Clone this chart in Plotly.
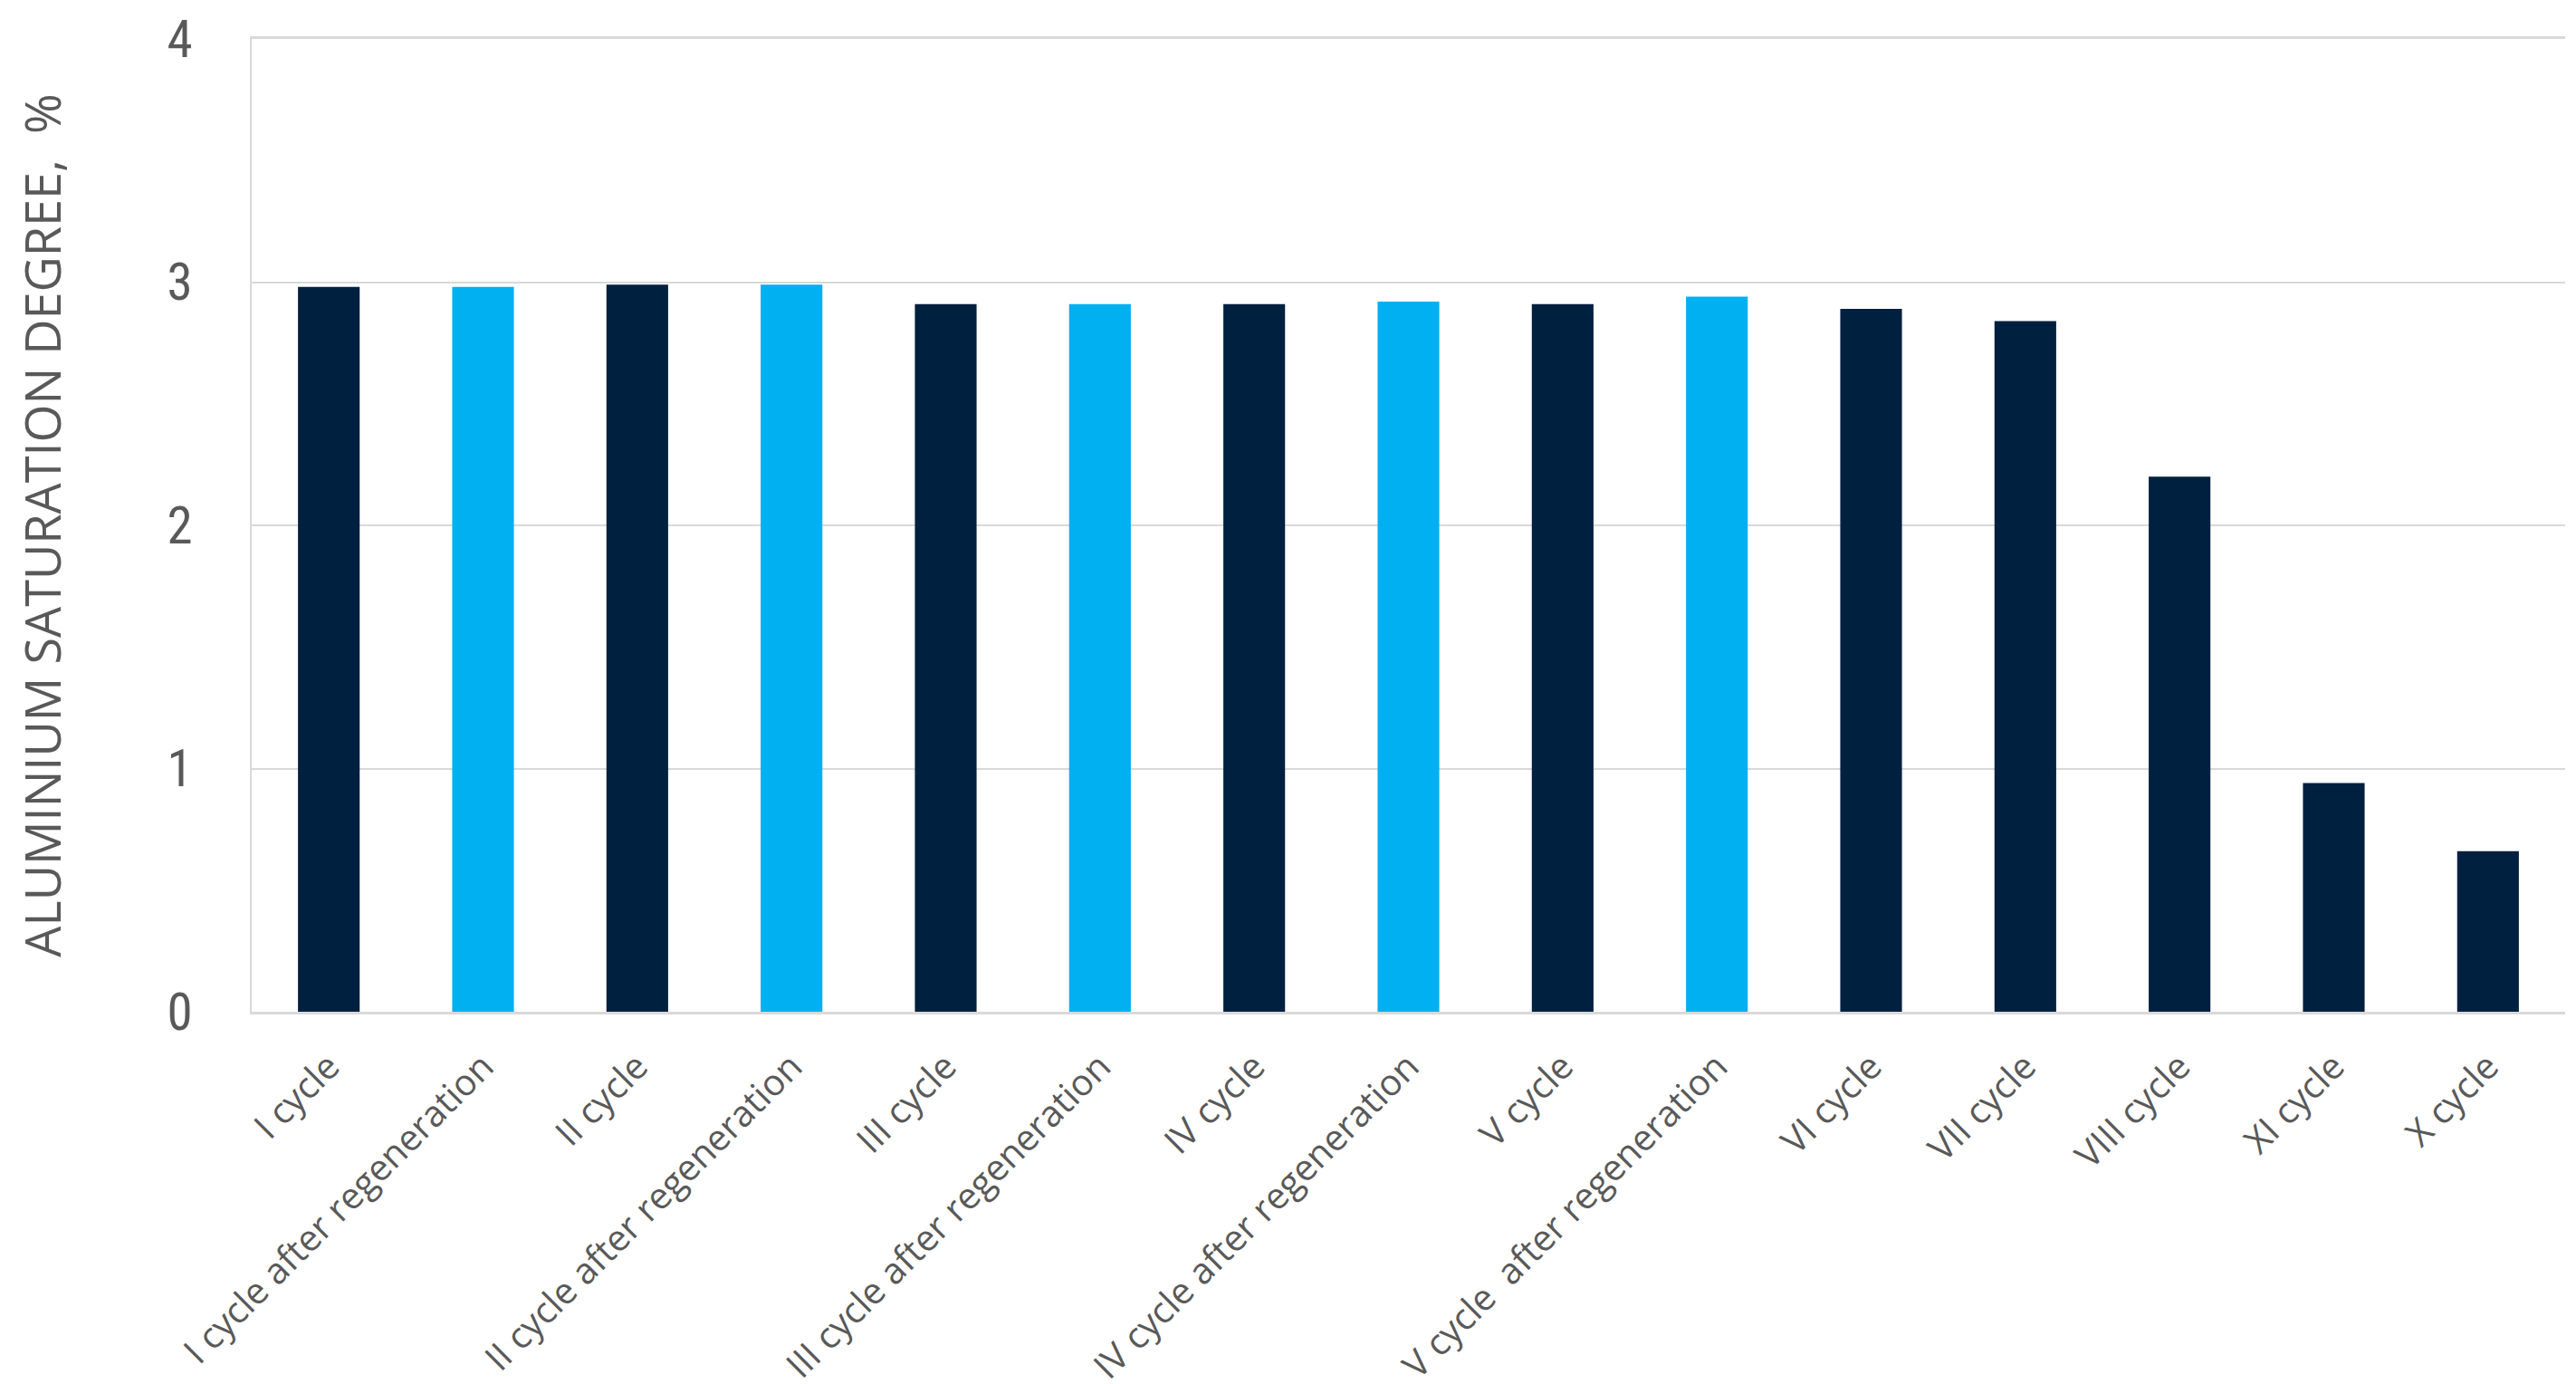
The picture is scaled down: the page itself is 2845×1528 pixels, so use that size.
import plotly.graph_objects as go

categories = [
    "I cycle", "I cycle after regeneration", "II cycle", "II cycle after regeneration",
    "III cycle", "III cycle after regeneration", "IV cycle", "IV cycle after regeneration",
    "V cycle", "V cycle  after regeneration", "VI cycle", "VII cycle", "VIII cycle",
    "XI cycle", "X cycle",
]
values = [2.98, 2.98, 2.99, 2.99, 2.91, 2.91, 2.91, 2.92, 2.91, 2.94, 2.89, 2.84, 2.20, 0.94, 0.66]
is_regeneration = [False, True, False, True, False, True, False, True, False, True,
                   False, False, False, False, False]
y_ticks = [0, 1, 2, 3, 4]

DARK = "#00203F"
LIGHT = "#00B0F0"
colors = [LIGHT if r else DARK for r in is_regeneration]

fig = go.Figure(go.Bar(x=categories, y=values, marker=dict(color=colors, line=dict(width=0))))

fig.update_layout(
    width=2845, height=1528,
    paper_bgcolor="white", plot_bgcolor="white",
    margin=dict(l=270, r=20, t=35, b=419),
    bargap=0.6,
    showlegend=False,
    font=dict(family="Open Sans", color="#595959"),
)
fig.update_xaxes(
    automargin=False,
    tickangle=-45,
    tickfont=dict(family="Open Sans", size=40, color="#595959"),
    showline=True, linecolor="#d9d9d9", linewidth=3, mirror=True,
    showgrid=False,
    ticks="", ticklabelstandoff=18,
)
fig.update_yaxes(
    automargin=False,
    range=[0, 4], tickvals=y_ticks,
    tickfont=dict(family="Liberation Sans Narrow, Roboto Condensed, Roboto", size=57, color="#595959"),
    showgrid=True, gridcolor="#d9d9d9", gridwidth=2,
    showline=True, linecolor="#d9d9d9", linewidth=2,
    zeroline=False,
    ticks="", ticklabelstandoff=52, ticklabeloverflow="allow",
    title=dict(text="ALUMINIUM SATURATION DEGREE,  %",
               font=dict(family="Open Sans", size=54, color="#595959"),
               standoff=100),
)

fig.write_html("out.html")
